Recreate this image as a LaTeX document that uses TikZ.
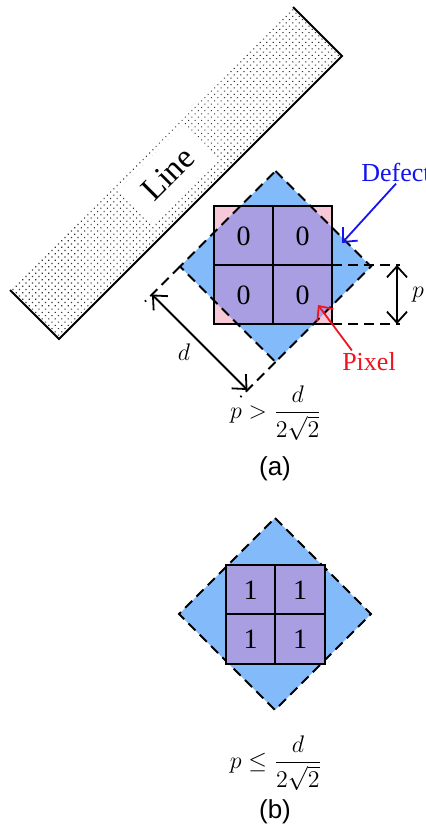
\documentclass[tikz,border=0pt]{standalone}
\usepackage{amsmath}
\usepackage{fontspec}
\setmainfont{Liberation Serif}
\newfontfamily\capfont{Liberation Sans}
\usepackage{tikz}
\usetikzlibrary{arrows.meta, patterns.meta}
\definecolor{defectblue}{RGB}{130,186,250}
\definecolor{pixelpink}{RGB}{247,200,215}
\definecolor{pixelpurple}{RGB}{169,158,225}
\definecolor{labelblue}{RGB}{20,20,240}
\definecolor{labelred}{RGB}{240,20,30}
\tikzset{
  outline/.style={line width=1pt, line join=miter},
  dashline/.style={line width=1pt, dash pattern=on 5pt off 3pt},
  dimarrow/.style={line width=0.9pt,
    {Straight Barb[length=5.5pt,width=10pt]}-{Straight Barb[length=5.5pt,width=10pt]}},
  callout/.style={line width=0.9pt, -{Straight Barb[length=5.5pt,width=10pt]}},
  cellnum/.style={font=\fontsize{14}{16}\selectfont, inner sep=0pt},
  linetext/.style={rotate=45, fill=white, minimum width=46pt, minimum height=24pt,
    font=\fontsize{16.5}{18}\selectfont},
  tag/.style={font=\fontsize{13}{15}\selectfont, inner sep=1pt},
  caption/.style={font=\capfont\fontsize{13}{15}\selectfont},
}

\begin{document}
\begin{tikzpicture}[x=0.5pt, y=-0.5pt]
\useasboundingbox (0,0) rectangle (426,836);
% the line (dotted band, open on its upper side)
\coordinate (bandA) at (10,290);
\coordinate (bandB) at (59,339);
\coordinate (bandC) at (342,56);
\coordinate (bandD) at (293,7);
\fill[pattern={Dots[distance=2.3pt, radius=0.4pt, angle=45]}, pattern color=black!80]
  (bandA) -- (bandB) -- (bandC) -- (bandD) -- cycle;
\node[linetext] (linelabel) at (168,174) {Line};
\draw[outline] (bandA) -- (bandB) -- (bandC) -- (bandD);
% (a) defect over the pixels
\coordinate (topA) at (275.5,171);
\coordinate (rightA) at (371,266.5);
\coordinate (botA) at (275.5,362);
\coordinate (leftA) at (180,266.5);
\fill[pixelpink] (214,206) rectangle (332,324);
\fill[defectblue] (topA) -- (rightA) -- (botA) -- (leftA) -- cycle;
\begin{scope}
  \clip (topA) -- (rightA) -- (botA) -- (leftA) -- cycle;
  \fill[pixelpurple] (214,206) rectangle (332,324);
\end{scope}
\draw[dashline] (topA) -- (rightA) -- (botA) -- (leftA) -- cycle;
\draw[outline] (214,206) rectangle (332,324);
\draw[outline] (273,206) -- (273,324) (214,265) -- (332,265);
\node[cellnum] (a11) at (243.5,236) {0};
\node[cellnum] (a12) at (302.5,236) {0};
\node[cellnum] (a21) at (243.5,295) {0};
\node[cellnum] (a22) at (302.5,295) {0};
% pixel size p
\coordinate (pmid) at (332,265);
\coordinate (pbot) at (332,324);
\coordinate (pmidend) at (400,265);
\coordinate (pbotend) at (400,324);
\draw[dashline] (pmid) -- (pmidend) (pbot) -- (pbotend);
\coordinate (ptop) at (397,265);
\coordinate (plow) at (397,324);
\draw[dimarrow] (ptop) -- (plow);
\node[tag] (plabel) at (418,295) {$p$};
% defect size d
\coordinate (dleftend) at (145,301.5);
\coordinate (dbotend) at (240.5,397);
\draw[dashline] (leftA) -- (dleftend) (botA) -- (dbotend);
\coordinate (dstart) at (152,294.5);
\coordinate (dend) at (247.5,390);
\draw[dimarrow] (dstart) -- (dend);
\node[tag] (dlabel) at (184,352) {$d$};
% callouts
\node[tag, text=labelblue] (defect) at (396,172) {Defect};
\coordinate (defecttip) at (342,243);
\draw[callout, labelblue] (defect.south) -- (defecttip);
\node[tag, text=labelred] (pixel) at (369,362) {Pixel};
\coordinate (pixeltip) at (318,305);
\draw[callout, labelred] ([xshift=6pt]pixel.north west) -- (pixeltip);
\node[tag] (condA) at (276,413) {$p > \dfrac{d}{2\sqrt{2}}$};
\node[caption] (capA) at (275,469) {(a)};
% (b) defect covering the pixels
\coordinate (topB) at (275,518);
\coordinate (rightB) at (371,614);
\coordinate (botB) at (275,710);
\coordinate (leftB) at (179,614);
\fill[defectblue] (topB) -- (rightB) -- (botB) -- (leftB) -- cycle;
\draw[dashline] (topB) -- (rightB) -- (botB) -- (leftB) -- cycle;
\fill[pixelpurple] (225.5,564.5) rectangle (324.5,663.5);
\draw[outline] (225.5,564.5) rectangle (324.5,663.5);
\draw[outline] (275,564.5) -- (275,663.5) (225.5,614) -- (324.5,614);
\node[cellnum] (b11) at (250.5,590) {1};
\node[cellnum] (b12) at (300,590) {1};
\node[cellnum] (b21) at (250.5,639) {1};
\node[cellnum] (b22) at (300,639) {1};
\node[tag] (condB) at (276,763) {$p \le \dfrac{d}{2\sqrt{2}}$};
\node[caption] (capB) at (275,812) {(b)};
\end{tikzpicture}
\end{document}
